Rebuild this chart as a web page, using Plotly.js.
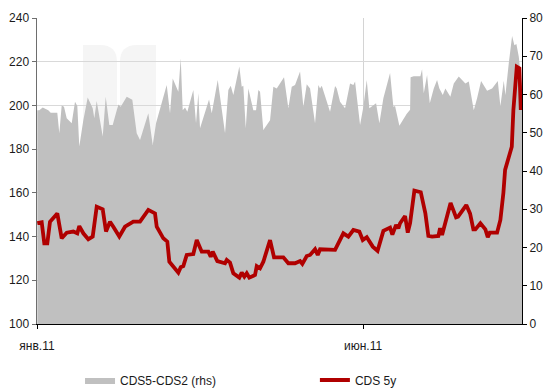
<!DOCTYPE html>
<html><head><meta charset="utf-8">
<script src="https://cdn.plot.ly/plotly-3.0.1.min.js"></script>
<style>html,body{margin:0;padding:0;background:#fff}#chart{width:547px;height:389px}</style>
</head><body><div id="chart"></div>
<script>
// days since 2011-01-01
const spreadDays = [0.14,1.07,2.64,5.23,6.35,9.40,10.33,11.44,12.51,13.76,16.07,17.60,18.67,19.59,21.45,23.48,25.80,26.54,27.65,30.43,31.82,33.49,35.06,37.66,38.77,41.55,44.14,46.18,47.71,51.55,53.59,55.12,60.07,61.60,62.85,65.45,66.56,67.48,68.55,69.62,72.39,73.64,74.71,75.50,79.67,80.92,83.70,87.08,88.61,89.72,90.92,93.70,94.81,95.55,96.67,97.87,100.19,101.44,102.50,103.29,104.82,107.92,109.45,111.02,114.40,116.40,117.97,119.50,121.82,123.34,124.92,126.45,128.76,130.29,131.08,131.87,135.71,138.03,138.81,140.34,142.66,144.97,146.50,147.29,149.61,151.14,152.71,153.91,157.02,158.55,160.40,163.50,165.03,165.82,167.81,171.24,172.77,173.00,174.48,177.54,178.32,179.11,180.64,181.89,183.74,185.27,186.34,187.91,189.11,191.43,193.01,195.32,196.85,198.38,199.95,202.27,203.80,205.65,208.43,210.75,213.39,214.59,216.16,216.91,218.48,220.01,221.08,222.00,223.11,223.85,224.60];
const spreadVals = [55.9,55.9,56.6,55.9,55.2,55.2,49.9,57.1,56.8,53.8,52.5,58.1,57.0,46.4,53.3,59.2,56.4,53.8,58.3,49.0,59.4,52.0,52.0,57.4,56.8,59.4,58.6,49.9,48.1,55.1,46.8,52.5,62.5,55.1,64.2,60.7,69.5,55.9,56.6,55.5,61.2,52.5,60.3,51.2,58.7,55.1,63.8,49.9,61.2,62.3,59.9,67.3,62.0,62.3,51.2,61.6,55.9,55.9,61.2,60.7,50.7,53.3,62.0,61.6,64.5,56.4,62.0,62.5,66.0,56.8,62.7,61.6,52.5,62.5,61.6,62.3,55.5,62.2,61.6,58.1,56.4,62.9,62.5,63.4,52.0,56.8,63.8,56.4,57.7,52.5,59.0,65.6,56.8,57.0,51.8,55.0,56.0,64.5,64.8,64.8,66.6,60.3,65.1,57.7,61.6,63.8,61.6,59.9,61.6,59.4,62.9,64.7,63.8,62.9,63.4,55.9,59.0,63.5,61.0,61.6,63.5,57.0,63.6,59.9,68.2,75.3,72.9,73.2,69.9,65.0,62.0];

const cdsDays = [0.14,2.18,3.38,4.77,6.02,9.40,11.44,13.76,16.81,18.67,19.59,21.45,23.76,25.80,27.65,30.43,31.96,33.81,35.34,38.12,40.76,44.60,47.71,51.55,54.65,55.44,58.50,60.35,61.28,63.13,65.45,66.56,67.76,69.34,72.39,73.97,76.29,79.34,80.45,81.38,83.51,87.08,87.87,89.39,90.92,93.70,94.81,96.02,97.13,98.33,100.97,101.76,103.29,104.82,107.92,109.77,114.08,116.40,119.50,121.82,122.88,124.92,126.45,128.76,130.01,131.08,134.92,138.03,141.87,144.19,146.50,149.28,150.86,152.71,155.49,157.71,160.40,163.50,164.57,166.28,167.35,168.13,170.45,171.70,172.77,174.76,177.72,179.85,181.24,182.96,185.87,186.66,187.59,191.52,194.07,195.00,198.80,200.56,202.08,203.01,205.33,207.64,208.75,209.68,213.06,214.59,215.98,216.77,219.87,220.61,222.19,223.39,224.04];
const cdsVals = [146.1,146.5,136.9,136.9,146.8,150.6,139.2,141.8,142.3,141.5,144.8,141.5,138.8,140.0,153.7,152.5,142.3,146.8,144.5,140.0,144.5,146.8,146.8,152.2,150.6,144.5,139.2,137.7,128.5,126.0,123.5,126.0,126.5,131.6,132.0,138.4,133.1,133.1,130.8,133.1,128.8,127.8,129.3,128.1,123.2,121.2,123.5,121.7,123.2,121.2,122.4,126.5,125.5,128.5,138.4,130.5,130.5,127.8,127.8,128.8,127.5,131.1,131.6,134.2,131.6,134.2,134.2,133.9,141.5,140.0,143.0,142.3,138.4,139.7,135.4,133.5,142.6,144.1,140.9,145.3,143.8,146.1,149.4,141.8,146.1,161.0,160.3,150.6,140.3,140.0,140.3,143.8,140.7,155.4,148.8,149.1,154.4,150.5,143.3,143.3,146.1,143.3,139.7,141.8,141.8,147.6,160.0,170.5,181.1,197.9,217.7,217.0,197.9];

const tickDates = ['2011-01-01','2011-06-01'];
const tickLabels = ['янв.11','июн.11'];
const seriesNames = ['CDS5-CDS2 (rhs)','CDS 5y'];

const BASE = Date.UTC(2011,0,1);
const DAY = 86400000;
const toMs = d => BASE + d*DAY;

const font = {family:'"Liberation Sans", Arial, sans-serif', size:12, color:'#1a1a1a'};

const traces = [
  {x: spreadDays.map(toMs), y: spreadVals, yaxis:'y', type:'scatter', mode:'lines',
   fill:'tozeroy', fillcolor:'#c0c0c0', line:{width:0, color:'#c0c0c0'}, name:seriesNames[0],
   legend:'legend', hoverinfo:'skip'},
  {x: cdsDays.map(toMs), y: cdsVals, yaxis:'y2', type:'scatter', mode:'lines',
   line:{width:3.8, color:'#b00000'}, name:seriesNames[1], legend:'legend2', hoverinfo:'skip'}
];

function px2paperX(p){return (p-37)/485;}
function px2paperY(p){return (324-p)/306;}
function P(x,y){return px2paperX(x).toFixed(4)+','+px2paperY(y).toFixed(4);}

const legendBase = {orientation:'h', xanchor:'left', y:-0.183, yanchor:'middle',
                    font:font, bgcolor:'rgba(0,0,0,0)', borderwidth:0};

const layout = {
  width:547, height:389,
  margin:{l:37, r:25, t:18, b:65, autoexpand:false},
  paper_bgcolor:'#fff', plot_bgcolor:'#fff',
  font: font,
  showlegend:true,
  legend:Object.assign({}, legendBase, {x:0.0887}),
  legend2:Object.assign({}, legendBase, {x:0.573}),
  xaxis:{type:'date', range:[toMs(0), toMs(224.6)], tickvals:tickDates, ticktext:tickLabels,
         showgrid:true, gridcolor:'#d4d4d4', gridwidth:1, showline:true, linecolor:'#000', linewidth:1,
         ticks:'outside', ticklen:4, tickcolor:'#000', tickfont:font, ticklabelstandoff:7, zeroline:false, fixedrange:true},
  yaxis:{range:[0,80], dtick:10, tick0:0, side:'right', showgrid:false,
         showline:true, linecolor:'#000', linewidth:1, ticks:'outside', ticklen:4, tickcolor:'#000',
         tickfont:font, zeroline:false, fixedrange:true},
  yaxis2:{range:[100,240], dtick:20, tick0:100, overlaying:'y', side:'left', showgrid:true, gridcolor:'#d9d9d9', gridwidth:1,
          showline:true, linecolor:'#6e6e6e', linewidth:1.5, ticks:'outside', ticklen:4, tickcolor:'#6e6e6e',
          tickfont:font, zeroline:false, fixedrange:true},
  shapes:[
    {type:'path', xref:'paper', yref:'paper', layer:'below', line:{width:0}, fillcolor:'#f5f5f5',
     path:'M'+P(83,180)+' L'+P(83,45)+' L'+P(100,45)+' Q'+P(117,45)+' '+P(117,62)+' L'+P(117,180)+' Z'},
    {type:'path', xref:'paper', yref:'paper', layer:'below', line:{width:0}, fillcolor:'#f5f5f5',
     path:'M'+P(120,180)+' L'+P(120,62)+' Q'+P(120,45)+' '+P(137,45)+' L'+P(156,45)+' L'+P(156,180)+' Z'}
  ]
};

Plotly.newPlot('chart', traces, layout, {staticPlot:true, displayModeBar:false});
</script></body></html>
